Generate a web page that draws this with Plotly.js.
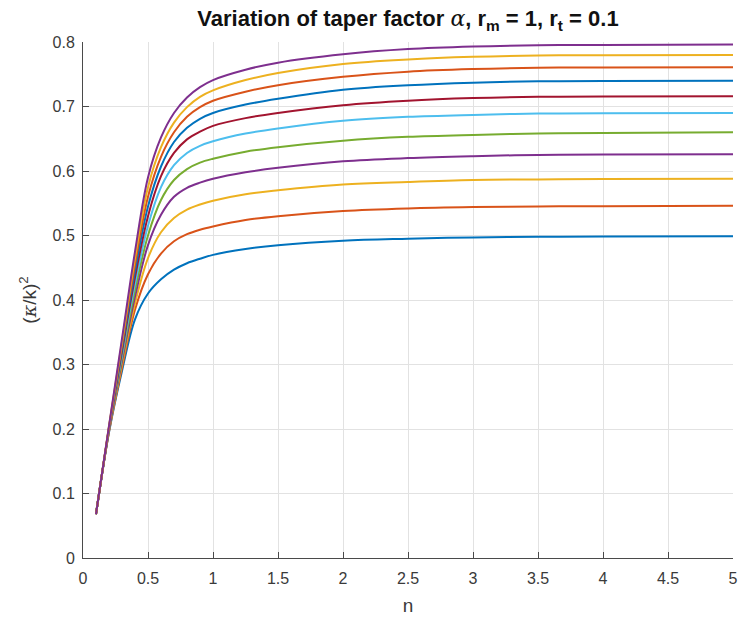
<!DOCTYPE html>
<html>
<head>
<meta charset="utf-8">
<script src="https://cdn.plot.ly/plotly-3.0.1.min.js"></script>
<style>
html,body{margin:0;padding:0;background:#fff;}
#chart{width:740px;height:624px;}
</style>
</head>
<body>
<div id="chart"></div>
<script>
// n values at which curves were read
const nValues = [0.1, 0.2, 0.3, 0.4, 0.5, 0.6, 0.7, 0.8, 0.9, 1.0, 1.25, 1.5, 2, 2.5, 3, 3.5, 4, 5];

// (kappa/k)^2 readings, bottom curve first
const curve1  = [0.068, 0.195, 0.290, 0.370, 0.410, 0.432, 0.447, 0.457, 0.464, 0.470, 0.479, 0.485, 0.492, 0.495, 0.497, 0.498, 0.4985, 0.499];
const curve2  = [0.068, 0.196, 0.295, 0.385, 0.440, 0.472, 0.491, 0.502, 0.509, 0.514, 0.524, 0.530, 0.538, 0.542, 0.544, 0.545, 0.5455, 0.546];
const curve3  = [0.068, 0.197, 0.300, 0.395, 0.465, 0.505, 0.527, 0.540, 0.548, 0.554, 0.564, 0.570, 0.579, 0.583, 0.586, 0.587, 0.5875, 0.588];
const curve4  = [0.068, 0.198, 0.305, 0.405, 0.485, 0.532, 0.560, 0.574, 0.582, 0.588, 0.598, 0.605, 0.615, 0.620, 0.623, 0.625, 0.6255, 0.626];
const curve5  = [0.068, 0.199, 0.310, 0.415, 0.500, 0.555, 0.586, 0.603, 0.613, 0.619, 0.630, 0.637, 0.647, 0.653, 0.656, 0.658, 0.659, 0.660];
const curve6  = [0.068, 0.200, 0.315, 0.425, 0.515, 0.575, 0.609, 0.628, 0.639, 0.646, 0.658, 0.666, 0.678, 0.684, 0.687, 0.689, 0.6895, 0.690];
const curve7  = [0.068, 0.201, 0.320, 0.435, 0.530, 0.592, 0.628, 0.649, 0.661, 0.670, 0.682, 0.690, 0.702, 0.709, 0.713, 0.715, 0.7155, 0.716];
const curve8  = [0.068, 0.202, 0.325, 0.445, 0.545, 0.607, 0.645, 0.667, 0.681, 0.690, 0.703, 0.712, 0.726, 0.733, 0.737, 0.739, 0.7395, 0.740];
const curve9  = [0.068, 0.203, 0.330, 0.455, 0.560, 0.622, 0.660, 0.684, 0.699, 0.709, 0.723, 0.733, 0.746, 0.754, 0.758, 0.760, 0.7605, 0.761];
const curve10 = [0.068, 0.204, 0.335, 0.465, 0.575, 0.637, 0.675, 0.699, 0.715, 0.725, 0.741, 0.752, 0.766, 0.773, 0.777, 0.779, 0.7795, 0.780];
const curve11 = [0.068, 0.205, 0.340, 0.475, 0.590, 0.652, 0.690, 0.714, 0.730, 0.741, 0.757, 0.768, 0.781, 0.789, 0.793, 0.795, 0.7955, 0.796];

const curves = [curve1, curve2, curve3, curve4, curve5, curve6, curve7, curve8, curve9, curve10, curve11];
const colors = ['#0072BD', '#D95319', '#EDB120', '#7E2F8E', '#77AC30', '#4DBEEE', '#A2142F',
                '#0072BD', '#D95319', '#EDB120', '#7E2F8E'];

const xTicks = [0, 0.5, 1, 1.5, 2, 2.5, 3, 3.5, 4, 4.5, 5];
const xTickLabels = ['0', '0.5', '1', '1.5', '2', '2.5', '3', '3.5', '4', '4.5', '5'];
const yTicks = [0, 0.1, 0.2, 0.3, 0.4, 0.5, 0.6, 0.7, 0.8];
const yTickLabels = ['0', '0.1', '0.2', '0.3', '0.4', '0.5', '0.6', '0.7', '0.8'];

const traces = curves.map((c, i) => ({
  x: nValues,
  y: c,
  type: 'scatter',
  mode: 'lines',
  line: {color: colors[i], width: 2, shape: 'spline', smoothing: 1},
  hoverinfo: 'skip',
  showlegend: false
}));

const font = 'Liberation Sans, Arial, sans-serif';
const labelColor = '#3a3a3a';
const layout = {
  width: 740,
  height: 624,
  margin: {l: 83, r: 7, t: 42, b: 66},
  paper_bgcolor: '#ffffff',
  plot_bgcolor: '#ffffff',
  font: {family: font, color: labelColor, size: 16},
  title: {
    text: '<b>Variation of taper factor <span style="font-family:DejaVu Serif,serif;font-style:italic;font-weight:normal">α</span>, r<sub>m</sub> = 1, r<sub>t</sub> = 0.1</b>',
    font: {family: font, size: 22, color: '#111111'},
    x: 0.5, xref: 'paper', xanchor: 'center',
    y: 1, yref: 'paper', yanchor: 'bottom',
    pad: {b: 16}
  },
  xaxis: {
    range: [0, 5],
    tickvals: xTicks, ticktext: xTickLabels,
    ticks: 'inside', ticklen: 6, tickcolor: '#4a4a4a', tickwidth: 1,
    showline: true, linecolor: '#4a4a4a', linewidth: 1, mirror: false,
    showgrid: true, gridcolor: '#e2e2e2', gridwidth: 1,
    zeroline: false,
    ticklabelstandoff: 6,
    tickfont: {family: font, size: 16, color: labelColor},
    title: {text: 'n', font: {family: font, size: 19, color: labelColor}, standoff: 12}
  },
  yaxis: {
    range: [0, 0.8],
    tickvals: yTicks, ticktext: yTickLabels,
    ticks: 'inside', ticklen: 6, tickcolor: '#4a4a4a', tickwidth: 1,
    showline: true, linecolor: '#4a4a4a', linewidth: 1, mirror: false,
    showgrid: true, gridcolor: '#e2e2e2', gridwidth: 1,
    zeroline: false,
    ticklabelstandoff: 4,
    tickfont: {family: font, size: 16, color: labelColor},
    title: {text: '(<span style="font-family:DejaVu Serif,serif;font-style:italic">κ</span>/k)<sup>2</sup>', font: {family: font, size: 19, color: labelColor}, standoff: 10}
  }
};

Plotly.newPlot('chart', traces, layout, {displayModeBar: false, staticPlot: true});
</script>
</body>
</html>
